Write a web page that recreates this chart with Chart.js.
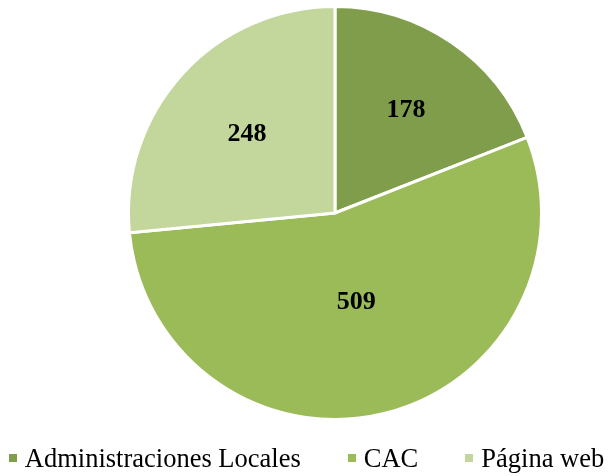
<!DOCTYPE html>
<html>
<head>
<meta charset="utf-8">
<script src="https://cdn.jsdelivr.net/npm/chart.js@4/dist/chart.umd.min.js"></script>
<style>
  html, body { margin: 0; padding: 0; background: #fff; }
  #wrap { position: relative; width: 613px; height: 476px; overflow: hidden; }
  #pie { position: absolute; left: 0; top: 0; }
  #legend {
    position: absolute; left: 0; top: 443px; width: 613px; height: 30px;
    display: flex; justify-content: center; align-items: center;
    font-family: "Liberation Serif", "Times New Roman", serif; font-size: 26.5px;
    line-height: 30px; color: #000; white-space: nowrap;
  }
  .item { display: flex; align-items: center; margin: 0 23.5px; }
  .box { width: 8px; height: 8px; margin-right: 8px; }
</style>
</head>
<body>
<div id="wrap">
  <canvas id="pie" width="613" height="476"></canvas>
  <div id="legend"></div>
</div>
<script>
"use strict";

// Pie of contact channels, values as printed on the slices.

const categories = ["Administraciones Locales", "CAC", "Página web"];
const values = [178, 509, 248];
const colors = ["#809d4b", "#9bbb59", "#c3d69b"];
// how far out (fraction of radius) each number sits on its slice
const labelRadius = [0.61, 0.44, 0.575];

const sliceLabels = {
  id: "sliceLabels",
  afterDatasetsDraw(chart) {
    const ctx = chart.ctx;
    const meta = chart.getDatasetMeta(0);
    ctx.save();
    ctx.font = "bold 26px 'Liberation Serif', 'Times New Roman', serif";
    ctx.fillStyle = "#000";
    ctx.textAlign = "center";
    ctx.textBaseline = "middle";
    meta.data.forEach((arc, i) => {
      const p = arc.getProps(["x", "y", "startAngle", "endAngle", "outerRadius"], true);
      const mid = (p.startAngle + p.endAngle) / 2;
      const r = p.outerRadius * labelRadius[i];
      ctx.fillText(String(values[i]), p.x + Math.cos(mid) * r, p.y + Math.sin(mid) * r + 1);
    });
    ctx.restore();
  },
};

new Chart(document.getElementById("pie"), {
  type: "pie",
  data: {
    labels: categories,
    datasets: [{
      data: values,
      backgroundColor: colors,
      borderColor: "#ffffff",
      borderWidth: 3,
    }],
  },
  options: {
    responsive: false,
    animation: false,
    layout: { padding: { left: 57, top: 5, bottom: 55, right: 0 } },
    plugins: {
      legend: { display: false },
      tooltip: { enabled: false },
    },
  },
  plugins: [sliceLabels],
});

// Legend below the pie
const legend = document.getElementById("legend");
categories.forEach((name, i) => {
  const item = document.createElement("div");
  item.className = "item";
  const box = document.createElement("span");
  box.className = "box";
  box.style.background = colors[i];
  const txt = document.createElement("span");
  txt.textContent = name;
  item.appendChild(box);
  item.appendChild(txt);
  legend.appendChild(item);
});
</script>
</body>
</html>
